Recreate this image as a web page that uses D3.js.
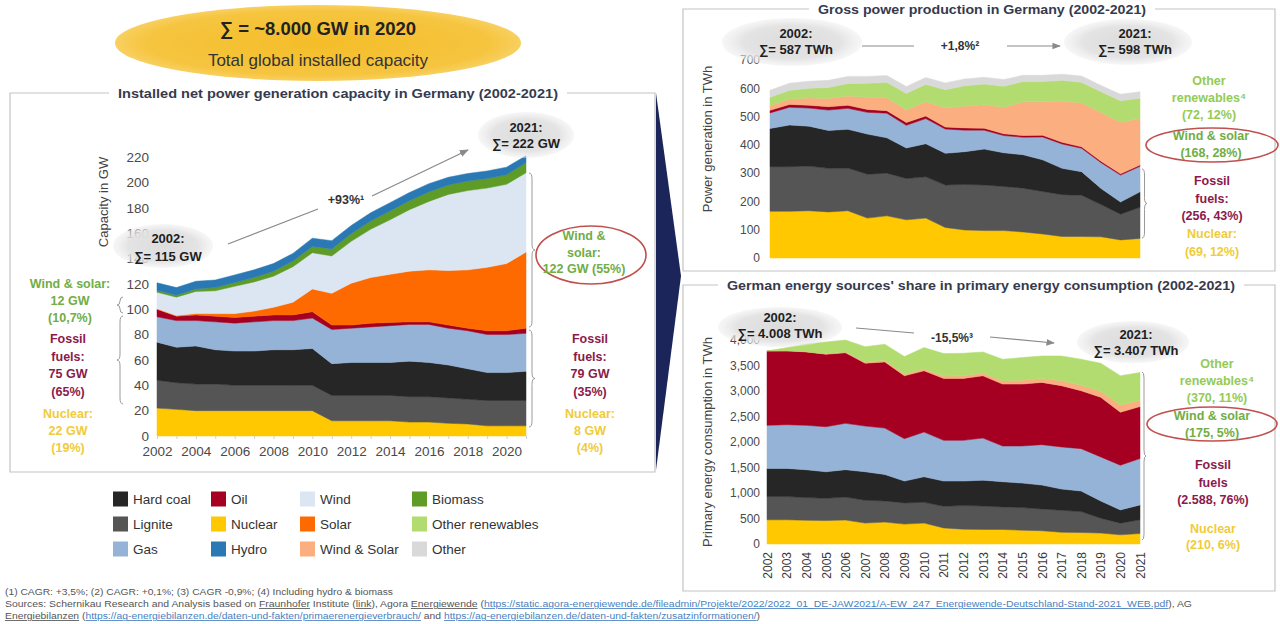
<!DOCTYPE html>
<html>
<head>
<meta charset="utf-8">
<script src="https://cdn.jsdelivr.net/npm/d3@7"></script>
<style>
  body { margin: 0; background: #fff; }
  svg { font-family: "Liberation Sans", Arial, sans-serif; }
</style>
</head>
<body>
<svg id="chart" width="1280" height="624"></svg>
<script>
// ---- data ----
const years = [2002, 2003, 2004, 2005, 2006, 2007, 2008, 2009, 2010, 2011,
               2012, 2013, 2014, 2015, 2016, 2017, 2018, 2019, 2020, 2021];
const evenYears = [2002, 2004, 2006, 2008, 2010, 2012, 2014, 2016, 2018, 2020];

// installed capacity, GW
const capNuclear  = [22, 21, 20, 20, 20, 20, 20, 20, 20, 12, 12, 12, 12, 11, 11, 10, 9.5, 8, 8, 8];
const capLignite  = [22, 21, 21, 21, 20, 20, 20, 20, 20, 20, 20, 20, 20, 20, 20, 20, 19.5, 20, 20, 20];
const capHardCoal = [30, 28, 30, 27, 27, 27, 28, 28, 29, 25, 26, 26, 26, 28, 27, 26, 24, 22, 22, 23];
const capGas      = [20, 21, 20, 22, 22, 23, 23, 23, 24, 27, 27, 28, 29, 29, 30, 29, 30, 30, 30, 30];
const capOil      = [6, 3.5, 4.5, 4.5, 4.5, 4.5, 4.5, 4.5, 5, 3.5, 2.5, 3, 2.5, 2, 2, 2.5, 2, 3, 3, 4];
const capSolar    = [0.3, 0.5, 1, 2, 3, 4, 6, 10, 18, 25, 33, 36, 38, 40, 41, 43, 46, 50, 53, 60];
const capWind     = [13, 14.5, 17.5, 18, 21.5, 23, 24.5, 28, 28.5, 29.5, 33, 38, 43, 48.5, 54, 60, 62.5, 62.5, 62.5, 62.5];
const capBiomass  = [1.5, 1.5, 2, 2.5, 3, 3.5, 4, 4.5, 5, 5.5, 6, 6.5, 7, 7, 7.5, 7.5, 7.5, 7.5, 7.5, 8];
const capHydro    = [6, 6, 6, 6, 6, 6, 6, 6, 6.5, 6.5, 6.5, 6.5, 6.5, 6.5, 6.5, 6, 6, 6, 6, 5.5];

// gross power production, TWh
const genNuclear   = [165, 165, 167, 163, 167, 141, 149, 135, 141, 108, 99, 97, 97, 92, 85, 76, 76, 75, 64, 69];
const genLignite   = [158, 158, 158, 154, 151, 155, 151, 146, 146, 150, 161, 161, 156, 155, 150, 148, 146, 114, 91, 110];
const genHardCoal  = [135, 147, 141, 134, 137, 142, 125, 108, 117, 112, 116, 127, 119, 118, 112, 93, 83, 57, 43, 55];
const genGas       = [55, 63, 64, 72, 74, 77, 87, 80, 89, 86, 76, 67, 61, 62, 81, 86, 83, 91, 95, 90];
const genOil       = [9, 10, 10, 12, 11, 10, 9, 10, 9, 7, 8, 7, 6, 6, 6, 6, 5, 5, 5, 5];
const genWindSolar = [16, 19, 26, 29, 33, 43, 45, 45, 50, 68, 77, 83, 94, 119, 118, 145, 156, 172, 182, 164];
const genOtherRen  = [30, 31, 34, 39, 44, 50, 55, 58, 62, 64, 72, 73, 74, 72, 72, 74, 72, 74, 76, 72];
const genOther     = [25, 25, 25, 25, 25, 24, 24, 24, 24, 24, 24, 24, 24, 22, 22, 22, 22, 22, 23, 23];

// primary energy consumption, TWh
const peNuclear   = [475, 475, 465, 460, 470, 410, 430, 390, 410, 315, 290, 285, 285, 270, 260, 230, 225, 215, 180, 205];
const peLignite   = [455, 455, 445, 436, 450, 447, 414, 415, 408, 425, 463, 460, 442, 444, 428, 432, 411, 291, 229, 269];
const peHardCoal  = [552, 552, 546, 520, 537, 559, 520, 429, 500, 494, 481, 507, 494, 481, 468, 416, 403, 338, 260, 292];
const peGas       = [844, 857, 870, 883, 909, 896, 909, 831, 877, 798, 798, 825, 700, 727, 792, 825, 831, 864, 876, 909];
const peOil       = [1461, 1448, 1441, 1422, 1383, 1233, 1298, 1234, 1201, 1215, 1215, 1221, 1215, 1214, 1221, 1201, 1136, 1169, 1039, 1020];
const peWindSolar = [0, 2, 5, 10, 15, 20, 25, 30, 35, 45, 50, 55, 60, 75, 75, 95, 105, 120, 140, 125];
const peOtherRen  = [0, 60, 150, 230, 235, 305, 320, 346, 420, 442, 443, 412, 427, 445, 444, 489, 512, 548, 575, 544];

const colors = {
  hardCoal: "#262626", lignite: "#555555", gas: "#95b3d7",
  oil: "#a50021", nuclear: "#ffc800", hydro: "#2a78b4",
  wind: "#dce6f2", solar: "#ff6a00", windSolar: "#fbae80",
  biomass: "#5e9c27", otherRen: "#b3dc70", other: "#d9d9d9"
};
const txtGreen = "#72ad45", txtLightGreen = "#93cb55", txtFossil = "#8b1a4c", txtNuclear = "#f0cb3a";

const svg = d3.select("#chart");
const defs = svg.append("defs");

const bubble = defs.append("radialGradient").attr("id", "bubble");
bubble.append("stop").attr("offset", "0%").attr("stop-color", "#dcdcdc");
bubble.append("stop").attr("offset", "70%").attr("stop-color", "#e2e2e2").attr("stop-opacity", 0.95);
bubble.append("stop").attr("offset", "100%").attr("stop-color", "#ececec").attr("stop-opacity", 0.45);

const sun = defs.append("radialGradient").attr("id", "sun");
sun.append("stop").attr("offset", "0%").attr("stop-color", "#f4bd28");
sun.append("stop").attr("offset", "85%").attr("stop-color", "#f6c540");
sun.append("stop").attr("offset", "100%").attr("stop-color", "#f8d060");

defs.append("marker").attr("id", "arrow").attr("viewBox", "0 0 10 10")
  .attr("refX", 9).attr("refY", 5).attr("markerWidth", 7).attr("markerHeight", 7)
  .attr("orient", "auto")
  .append("path").attr("d", "M0,1 L10,5 L0,9 Z").attr("fill", "#8a8a8a");

// ---- helpers ----
function makeTable(cols) {
  return years.map((yr, i) => {
    const row = {year: yr};
    for (const k in cols) row[k] = cols[k][i];
    return row;
  });
}

function drawStack(g, keys, table, x, y) {
  const series = d3.stack().keys(keys)(table);
  const area = d3.area().x(d => x(d.data.year)).y0(d => y(d[0])).y1(d => y(d[1]));
  g.selectAll("path.layer").data(series).join("path")
    .attr("class", "layer")
    .attr("fill", d => colors[d.key])
    .attr("stroke", d => colors[d.key])
    .attr("stroke-width", 0.5)
    .attr("d", area);
}

function lines(g, x, y0, step, rows, color, size, weight) {
  rows.forEach((t, i) => {
    g.append("text").attr("x", x).attr("y", y0 + i * step)
      .attr("text-anchor", "middle").attr("fill", color)
      .attr("font-size", size).attr("font-weight", weight || "bold")
      .text(t);
  });
}

function bubbleNote(g, cx, cy, rx, ry, rows, tx, ty, step) {
  g.append("ellipse").attr("cx", cx).attr("cy", cy).attr("rx", rx).attr("ry", ry)
    .attr("fill", "url(#bubble)");
  lines(g, tx, ty, step, rows, "#1e1e1e", 13, "bold");
}

// curly brace; dir = 1 tip to the right "}", dir = -1 tip to the left "{"
function brace(g, x, y1, y2, dir, w) {
  const ym = (y1 + y2) / 2, r = Math.min(6, (y2 - y1) / 4);
  const a = x + dir * w, b = x + dir * 2 * w;
  const d = `M${x},${y1} Q${a},${y1} ${a},${y1 + r} L${a},${ym - r} Q${a},${ym} ${b},${ym}` +
            ` Q${a},${ym} ${a},${ym + r} L${a},${y2 - r} Q${a},${y2} ${x},${y2}`;
  g.append("path").attr("d", d).attr("fill", "none").attr("stroke", "#9a9a9a").attr("stroke-width", 1);
}

function boxWithTitle(x0, y0, x1, y1, title, tcx, tw) {
  svg.append("text").attr("x", tcx).attr("y", y0 + 4.5)
    .attr("text-anchor", "middle").attr("font-size", 13).attr("font-weight", "bold")
    .attr("textLength", tw).attr("lengthAdjust", "spacingAndGlyphs")
    .attr("fill", "#363a4e").text(title);
  const half = tw / 2 + 9;
  svg.append("path")
    .attr("d", `M${tcx - half},${y0} L${x0},${y0} L${x0},${y1} L${x1},${y1} L${x1},${y0} L${tcx + half},${y0}`)
    .attr("fill", "none").attr("stroke", "#c4c4c4").attr("stroke-width", 1.2);
}

function styleAxis(g, size, color) {
  g.select(".domain").remove();
  g.selectAll("text").attr("font-size", size).attr("fill", color)
    .attr("font-family", "Liberation Sans, Arial, sans-serif");
  g.selectAll("line").attr("stroke", "#cfcfcf");
}

// ---- global capacity bubble ----
svg.append("ellipse").attr("cx", 318).attr("cy", 43).attr("rx", 203).attr("ry", 38).attr("fill", "url(#sun)");
svg.append("text").attr("x", 318).attr("y", 35).attr("text-anchor", "middle")
  .attr("font-size", 18.5).attr("font-weight", "bold").attr("fill", "#222").text("∑ = ~8.000 GW in 2020");
svg.append("text").attr("x", 318).attr("y", 66).attr("text-anchor", "middle")
  .attr("font-size", 17).attr("fill", "#333").text("Total global installed capacity");

// ---- left: installed capacity ----
boxWithTitle(10, 93, 655, 472, "Installed net power generation capacity in Germany (2002-2021)", 338, 440);

const xCap = d3.scaleLinear().domain([2002, 2021]).range([157, 526]);
const yCap = d3.scaleLinear().domain([0, 220]).range([436, 157]);
const gCap = svg.append("g");
drawStack(gCap, ["nuclear", "lignite", "hardCoal", "gas", "oil", "solar", "wind", "biomass", "hydro"],
  makeTable({nuclear: capNuclear, lignite: capLignite, hardCoal: capHardCoal, gas: capGas, oil: capOil,
             solar: capSolar, wind: capWind, biomass: capBiomass, hydro: capHydro}), xCap, yCap);

const capY = svg.append("g").attr("transform", "translate(157,0)")
  .call(d3.axisLeft(yCap).ticks(11).tickSize(0).tickPadding(8));
styleAxis(capY, 13.5, "#4a4a4a");
const capX = svg.append("g").attr("transform", "translate(0,436)")
  .call(d3.axisBottom(xCap).tickValues(years).tickFormat(d => evenYears.includes(d) ? d : "")
    .tickSize(3).tickPadding(7));
styleAxis(capX, 13.5, "#4a4a4a");

svg.append("text").attr("transform", "translate(108,202) rotate(-90)").attr("text-anchor", "middle")
  .attr("font-size", 13).attr("fill", "#444").text("Capacity in GW");

const noteL = svg.append("g");
bubbleNote(noteL, 163, 246, 50, 22, ["2002:", "∑= 115 GW"], 168, 243, 18);
bubbleNote(noteL, 526, 135, 48, 23, ["2021:", "∑= 222 GW"], 526, 132, 16);

svg.append("line").attr("x1", 228).attr("y1", 244).attr("x2", 318).attr("y2", 209)
  .attr("stroke", "#8a8a8a").attr("stroke-width", 1.3);
svg.append("line").attr("x1", 372).attr("y1", 196).attr("x2", 468).attr("y2", 150)
  .attr("stroke", "#8a8a8a").attr("stroke-width", 1.3).attr("marker-end", "url(#arrow)");
svg.append("text").attr("x", 346).attr("y", 204).attr("text-anchor", "middle")
  .attr("font-size", 12.5).attr("font-weight", "bold").attr("fill", "#333").text("+93%¹");

lines(noteL, 70, 288, 17, ["Wind & solar:", "12 GW", "(10,7%)"], txtGreen, 12.5);
lines(noteL, 68, 343, 17.5, ["Fossil", "fuels:", "75 GW", "(65%)"], txtFossil, 12.5);
lines(noteL, 68, 418, 17, ["Nuclear:", "22 GW", "(19%)"], txtNuclear, 12.5);
brace(noteL, 123, 297, 313, -1, 3);
brace(noteL, 123, 316, 404, -1, 3);

noteL.append("ellipse").attr("cx", 591).attr("cy", 255).attr("rx", 55).attr("ry", 29)
  .attr("fill", "none").attr("stroke", "#c0504d").attr("stroke-width", 1.6);
lines(noteL, 584, 240, 16.5, ["Wind &", "solar:", "122 GW (55%)"], txtGreen, 12.5);
brace(noteL, 529, 173, 327, 1, 3);
brace(noteL, 529, 330, 427, 1, 3);
lines(noteL, 590, 343, 17.5, ["Fossil", "fuels:", "79 GW", "(35%)"], txtFossil, 12.5);
lines(noteL, 590, 418, 17, ["Nuclear:", "8 GW", "(4%)"], txtNuclear, 12.5);

// navy chevron
svg.append("path").attr("d", "M656,93 L681,276 L656,470 Z").attr("fill", "#1c2559");

// legend
const legendRows = [
  [["hardCoal", "Hard coal"], ["oil", "Oil"], ["wind", "Wind"], ["biomass", "Biomass"]],
  [["lignite", "Lignite"], ["nuclear", "Nuclear"], ["solar", "Solar"], ["otherRen", "Other renewables"]],
  [["gas", "Gas"], ["hydro", "Hydro"], ["windSolar", "Wind & Solar"], ["other", "Other"]]
];
const legendCols = [113, 211, 300, 412];
const legend = svg.append("g");
legendRows.forEach((row, r) => {
  row.forEach(([key, label], c) => {
    const lx = legendCols[c], ly = 499 + r * 25;
    legend.append("rect").attr("x", lx).attr("y", ly - 7.5).attr("width", 15).attr("height", 15)
      .attr("fill", colors[key]);
    legend.append("text").attr("x", lx + 20).attr("y", ly + 5).attr("font-size", 13.5)
      .attr("fill", "#333").text(label);
  });
});

// ---- right top: gross power production ----
boxWithTitle(683, 9, 1275, 271, "Gross power production in Germany (2002-2021)", 982, 328);

const xGen = d3.scaleLinear().domain([2002, 2021]).range([770, 1140]);
const yGen = d3.scaleLinear().domain([0, 700]).range([258, 60]);
const gGen = svg.append("g");
drawStack(gGen, ["nuclear", "lignite", "hardCoal", "gas", "oil", "windSolar", "otherRen", "other"],
  makeTable({nuclear: genNuclear, lignite: genLignite, hardCoal: genHardCoal, gas: genGas, oil: genOil,
             windSolar: genWindSolar, otherRen: genOtherRen, other: genOther}), xGen, yGen);
const genY = svg.append("g").attr("transform", "translate(770,0)")
  .call(d3.axisLeft(yGen).ticks(7).tickSize(0).tickPadding(10));
styleAxis(genY, 12, "#4a4a4a");
svg.append("text").attr("transform", "translate(712,139) rotate(-90)").attr("text-anchor", "middle")
  .attr("font-size", 13).attr("fill", "#444").text("Power generation in TWh");

const noteG = svg.append("g");
bubbleNote(noteG, 792, 42, 70, 24, ["2002:", "∑= 587 TWh"], 796, 38, 16);
bubbleNote(noteG, 1128, 42, 64, 23, ["2021:", "∑= 598 TWh"], 1135, 38, 16);
noteG.append("line").attr("x1", 862).attr("y1", 46).attr("x2", 914).attr("y2", 46)
  .attr("stroke", "#8a8a8a").attr("stroke-width", 1.2);
noteG.append("line").attr("x1", 1007).attr("y1", 46).attr("x2", 1060).attr("y2", 46)
  .attr("stroke", "#8a8a8a").attr("stroke-width", 1.2).attr("marker-end", "url(#arrow)");
noteG.append("text").attr("x", 960).attr("y", 50).attr("text-anchor", "middle")
  .attr("font-size", 12).attr("font-weight", "bold").attr("fill", "#333").text("+1,8%²");

lines(noteG, 1209, 85, 17, ["Other", "renewables⁴", "(72, 12%)"], txtLightGreen, 12.5);
noteG.append("ellipse").attr("cx", 1212).attr("cy", 145).attr("rx", 66).attr("ry", 17)
  .attr("fill", "none").attr("stroke", "#c0504d").attr("stroke-width", 1.6);
lines(noteG, 1211, 140, 17, ["Wind & solar", "(168, 28%)"], txtGreen, 12.5);
lines(noteG, 1212, 185, 17.5, ["Fossil", "fuels:", "(256, 43%)"], txtFossil, 12.5);
lines(noteG, 1212, 238, 17.5, ["Nuclear:", "(69, 12%)"], txtNuclear, 12.5);
brace(noteG, 1142, 169, 238, 1, 2.5);

// ---- right bottom: primary energy consumption ----
boxWithTitle(683, 285, 1275, 591, "German energy sources' share in primary energy consumption (2002-2021)", 981, 508);

const xPe = d3.scaleLinear().domain([2002, 2021]).range([767, 1140]);
const yPe = d3.scaleLinear().domain([0, 4000]).range([544, 340]);
const gPe = svg.append("g");
drawStack(gPe, ["nuclear", "lignite", "hardCoal", "gas", "oil", "windSolar", "otherRen"],
  makeTable({nuclear: peNuclear, lignite: peLignite, hardCoal: peHardCoal, gas: peGas, oil: peOil,
             windSolar: peWindSolar, otherRen: peOtherRen}), xPe, yPe);
const peY = svg.append("g").attr("transform", "translate(767,0)")
  .call(d3.axisLeft(yPe).ticks(8).tickFormat(d3.format(",")).tickSize(0).tickPadding(7));
styleAxis(peY, 12, "#4a4a4a");
const peX = svg.append("g").attr("transform", "translate(0,544)")
  .call(d3.axisBottom(xPe).tickValues(years).tickFormat(d3.format("d")).tickSize(0));
styleAxis(peX, 12, "#3a3a3a");
peX.selectAll("text").attr("transform", "rotate(-90)").attr("text-anchor", "end")
  .attr("x", -8).attr("y", 0).attr("dy", "0.35em");
svg.append("text").attr("transform", "translate(712,442) rotate(-90)").attr("text-anchor", "middle")
  .attr("font-size", 13).attr("fill", "#444").text("Primary energy consumption in TWh");

const noteP = svg.append("g");
bubbleNote(noteP, 780, 327, 62, 20, ["2002:", "∑= 4.008 TWh"], 780, 322, 16);
bubbleNote(noteP, 1133, 342, 56, 21, ["2021:", "∑= 3.407 TWh"], 1136, 339, 16);
noteP.append("line").attr("x1", 856).attr("y1", 328).attr("x2", 914).attr("y2", 333)
  .attr("stroke", "#8a8a8a").attr("stroke-width", 1.2);
noteP.append("line").attr("x1", 990).attr("y1", 337).attr("x2", 1054).attr("y2", 343)
  .attr("stroke", "#8a8a8a").attr("stroke-width", 1.2).attr("marker-end", "url(#arrow)");
noteP.append("text").attr("x", 952).attr("y", 342).attr("text-anchor", "middle")
  .attr("font-size", 12).attr("font-weight", "bold").attr("fill", "#333").text("-15,5%³");

lines(noteP, 1217, 368, 17, ["Other", "renewables⁴", "(370, 11%)"], txtLightGreen, 12.5);
noteP.append("ellipse").attr("cx", 1212).attr("cy", 424).attr("rx", 65).attr("ry", 17)
  .attr("fill", "none").attr("stroke", "#c0504d").attr("stroke-width", 1.6);
lines(noteP, 1212, 420, 17, ["Wind & solar", "(175, 5%)"], txtGreen, 12.5);
lines(noteP, 1213, 469, 17.5, ["Fossil", "fuels", "(2.588, 76%)"], txtFossil, 12.5);
lines(noteP, 1213, 533, 16, ["Nuclear", "(210, 6%)"], txtNuclear, 12.5);
brace(noteP, 1142, 372, 540, 1, 2);

// ---- footnotes ----
const foot = svg.append("g").attr("font-size", 8.5).attr("fill", "#555");
foot.append("text").attr("x", 5).attr("y", 595).attr("textLength", 388).attr("lengthAdjust", "spacingAndGlyphs")
  .text("(1) CAGR: +3,5%; (2) CAGR: +0,1%; (3) CAGR -0,9%; (4) Including hydro & biomass");
const f2 = foot.append("text").attr("x", 5).attr("y", 607).attr("textLength", 1187).attr("lengthAdjust", "spacingAndGlyphs");
f2.append("tspan").text("Sources: Schernikau Research and Analysis based on ");
f2.append("tspan").attr("text-decoration", "underline").text("Fraunhofer");
f2.append("tspan").text(" Institute (");
f2.append("tspan").attr("text-decoration", "underline").text("link");
f2.append("tspan").text("), Agora ");
f2.append("tspan").attr("text-decoration", "underline").text("Energiewende");
f2.append("tspan").text(" (");
f2.append("tspan").attr("fill", "#4a7fbf").attr("text-decoration", "underline")
  .text("https://static.agora-energiewende.de/fileadmin/Projekte/2022/2022_01_DE-JAW2021/A-EW_247_Energiewende-Deutschland-Stand-2021_WEB.pdf");
f2.append("tspan").text("), AG");
const f3 = foot.append("text").attr("x", 5).attr("y", 619).attr("textLength", 755).attr("lengthAdjust", "spacingAndGlyphs");
f3.append("tspan").attr("text-decoration", "underline").text("Energiebilanzen");
f3.append("tspan").text(" (");
f3.append("tspan").attr("fill", "#4a7fbf").attr("text-decoration", "underline")
  .text("https://ag-energiebilanzen.de/daten-und-fakten/primaerenergieverbrauch/");
f3.append("tspan").text(" and ");
f3.append("tspan").attr("fill", "#4a7fbf").attr("text-decoration", "underline")
  .text("https://ag-energiebilanzen.de/daten-und-fakten/zusatzinformationen/");
f3.append("tspan").text(")");
</script>
</body>
</html>
